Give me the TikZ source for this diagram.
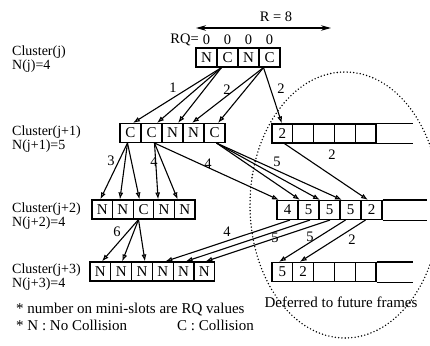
\documentclass[tikz,border=0pt]{standalone}
\usepackage{fontspec}
\setmainfont{Liberation Serif}
\usetikzlibrary{arrows.meta,calc}

\begin{document}
\begin{tikzpicture}[x=1pt,y=-1pt,
  cell/.style={draw, line width=1.1pt, minimum width=21pt, minimum height=19pt,
    inner sep=0pt, font=\fontsize{15}{15}\selectfont},
  link/.style={line width=1.1pt, -{Latex[length=7pt,width=5pt,fill=gray!45]}},
  lbl/.style={font=\fontsize{14.5}{14.5}\selectfont, inner sep=0pt},
  txt/.style={font=\fontsize{14}{13.5}\selectfont, inner sep=0pt, anchor=north west, align=left},
  note/.style={font=\fontsize{15}{15}\selectfont, inner sep=0pt, anchor=north west},
  strip/.style={line width=1.1pt}]

\useasboundingbox (0,0) rectangle (430,345);

% frame length indicator
\coordinate (rl) at (196,28);
\coordinate (rr) at (331,28);
\draw[line width=1.3pt, {Stealth[length=10pt,width=5.5pt]}-{Stealth[length=10pt,width=5.5pt]}] (rl) -- (rr);
\node[lbl] (rlab) at (276,17) {R = 8};

% cluster j
\foreach \t [count=\i] in {N,C,N,C}
  \node[cell] (a\i) at ({206.5+21*(\i-1)},57.5) {\t};
\node[lbl, anchor=east] (rq) at (199,40) {RQ=};
\foreach \i in {1,...,4}
  \node[lbl] (z\i) at ([yshift=8pt]a\i.north) {0};

% cluster j+1
\foreach \t [count=\i] in {C,C,N,N,C}
  \node[cell] (b\i) at ({130.5+21*(\i-1)},133) {\t};
\foreach \t [count=\i] in {2,{},{},{},{}}
  \node[cell, minimum width=20.8pt] (p\i) at ({282.4+20.8*(\i-1)},133.5) {\t};
\coordinate (pe) at (413,133.5);
\draw[strip] (p5.north east) -- (p5.north east -| pe);
\draw[strip] (p5.south east) -- (p5.south east -| pe);

% cluster j+2
\foreach \t [count=\i] in {N,N,C,N,N}
  \node[cell, minimum width=20.6pt] (c\i) at ({102.3+20.6*(\i-1)},209.5) {\t};
\foreach \t [count=\i] in {4,5,5,5,2}
  \node[cell] (q\i) at ({287.5+21*(\i-1)},210) {\t};
\coordinate (qe) at (427,210);
\draw[strip] (q5.north east) -- (q5.north east -| qe);
\draw[strip] (q5.south east) -- (q5.south east -| qe);

% cluster j+3
\foreach \t [count=\i] in {N,N,N,N,N,N}
  \node[cell, minimum width=20.8pt] (d\i) at ({100.4+20.8*(\i-1)},271.5) {\t};
\foreach \t [count=\i] in {5,2,{},{},{}}
  \node[cell, minimum width=20.8pt] (s\i) at ({282.4+20.8*(\i-1)},272) {\t};
\coordinate (se) at (413,272);
\draw[strip] (s5.north east) -- (s5.north east -| se);
\draw[strip] (s5.south east) -- (s5.south east -| se);

% cluster labels
\node[txt] (l1) at (12,46) {Cluster(j)\\N(j)=4};
\node[txt] (l2) at (12,126) {Cluster(j+1)\\N(j+1)=5};
\node[txt] (l3) at (12,203) {Cluster(j+2)\\N(j+2)=4};
\node[txt] (l4) at (12,264) {Cluster(j+3)\\N(j+3)=4};

% j -> j+1
\draw[link] ([xshift=-6pt]a2.south) -- ([xshift=2.5pt]b1.north);
\draw[link] ([xshift=-6pt]a2.south) -- ([xshift=5.5pt]b2.north);
\draw[link] ([xshift=-6pt]a2.south) -- ([xshift=5.5pt]b3.north);
\draw[link] ([xshift=-6pt]a4.south) -- ([xshift=-1.5pt]b4.north);
\draw[link] ([xshift=-6pt]a4.south) -- ([xshift=3.5pt]b5.north);
\draw[link] ([xshift=-6pt]a4.south) -- ([xshift=-0.5pt]p1.north);
\node[lbl] (n1) at (173,88) {1};
\node[lbl] (n2) at (227,90) {2};
\node[lbl] (n3) at (281,89) {2};

% j+1 -> j+2
\draw[link] ([xshift=-3pt]b1.south) -- ([xshift=-2pt]c1.north);
\draw[link] ([xshift=-3pt]b1.south) -- ([xshift=-3pt]c2.north);
\draw[link] ([xshift=-3pt]b1.south) -- ([xshift=-4pt]c3.north);
\draw[link] ([xshift=3pt]b2.south) -- ([xshift=-6pt]c4.north);
\draw[link] ([xshift=3pt]b2.south) -- ([xshift=-7pt]c5.north);
\draw[link] ([xshift=3pt]b2.south) -- ([xshift=-8.5pt]q1.north);
\draw[link] ([xshift=2pt]b5.south) -- ([xshift=-8.5pt]q2.north);
\draw[link] ([xshift=2pt]b5.south) -- ([xshift=-9.5pt]q3.north);
\draw[link] ([xshift=2pt]b5.south) -- ([xshift=-8.5pt]q4.north);
\draw[link] ([xshift=2pt]p1.south) -- ([xshift=-3.5pt]q5.north);
\node[lbl] (n4) at (111,161) {3};
\node[lbl] (n5) at (154,162) {4};
\node[lbl] (n6) at (208,164) {4};
\node[lbl] (n7) at (277,162) {5};
\node[lbl] (n8) at (332,155) {2};

% j+2 -> j+3
\draw[link] ([xshift=-5pt]c3.south) -- ([xshift=1.5pt]d1.north);
\draw[link] ([xshift=-5pt]c3.south) -- ([xshift=1pt]d2.north);
\draw[link] ([xshift=-5pt]c3.south) -- ([xshift=3pt]d3.north);
\draw[link] ([xshift=2.5pt]q1.south) -- ([xshift=2.5pt]d4.north);
\draw[link] ([xshift=1.5pt]q2.south) -- ([xshift=2pt]d5.north);
\draw[link] ([xshift=0.5pt]q3.south) -- ([xshift=1pt]d6.north);
\draw[link] ([xshift=-5pt]q4.south) -- ([xshift=-3.5pt]s1.north);
\draw[link] ([xshift=-6pt]q5.south) -- ([xshift=-3.5pt]s2.north);
\node[lbl] (n9) at (117,232) {6};
\node[lbl] (n10) at (227,232) {4};
\node[lbl] (n11) at (275,238) {5};
\node[lbl] (n12) at (310,237) {5};
\node[lbl] (n13) at (352,240) {2};

% deferred region
\begin{scope}
  \clip (0,0) rectangle (430,345);
  \draw[line width=1.6pt, line cap=round, dash pattern=on 0pt off 3.3pt]
    (345,205) ellipse [x radius=95pt, y radius=133pt];
\end{scope}
\node[note, anchor=center] (def) at (341,302) {Deferred to future frames};

% notes
\node[note] (f1) at (16,303) {* number on mini-slots are RQ values};
\node[note] (f2) at (16,320) {* N : No Collision};
\node[note] (f3) at (177,320) {C : Collision};
\end{tikzpicture}
\end{document}
